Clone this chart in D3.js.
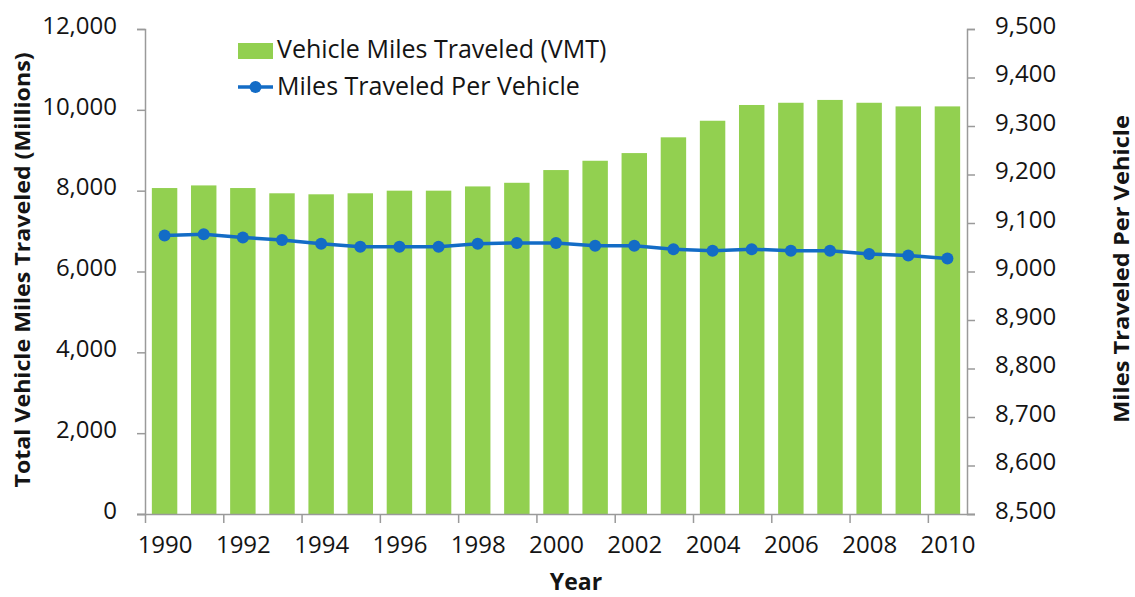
<!DOCTYPE html>
<html lang="en">
<head>
    <meta charset="UTF-8" />
    <title>Vehicle Miles Traveled</title>
    <script src="https://d3js.org/d3.v7.js"></script>
    <style>
        body { margin: 0; background: #fff; }
        text { font-family: "Open Sans", sans-serif; fill: #141414; }
    </style>
</head>
<body>
    <script>
        var w = 1135;
        var h = 597;

        var years = [1990,1991,1992,1993,1994,1995,1996,1997,1998,1999,2000,
                     2001,2002,2003,2004,2005,2006,2007,2008,2009,2010];
        // total VMT, millions
        var vmt = [8065,8130,8065,7935,7910,7935,8000,8000,8105,8195,8510,
                   8740,8930,9320,9730,10120,10175,10245,10175,10085,10085];
        // miles per vehicle
        var perVehicle = [9074,9077,9070,9065,9057,9051,9051,9051,9057,9059,9059,
                          9053,9053,9046,9043,9046,9043,9043,9036,9033,9027];
        var leftTicks = [0,2000,4000,6000,8000,10000,12000];
        var rightTicks = [8500,8600,8700,8800,8900,9000,9100,9200,9300,9400,9500];
        var yearTicks = [1990,1992,1994,1996,1998,2000,2002,2004,2006,2008,2010];

        var pLeft = 145, pRight = 967, pTop = 29, pBottom = 514;
        var green = "#92D050";
        var blue = "#136CC6";
        var grey = "#9a9a9a";
        var fontSize = "24px";

        var svg = d3.select("body")
                    .append("svg")
                    .attr("width", w)
                    .attr("height", h);

        var xBand = d3.scaleBand()
            .domain(years)
            .range([pLeft, pRight])
            .paddingInner(0.35)
            .paddingOuter(0.175);

        // year boundaries, used for the tick marks
        var xLin = d3.scaleLinear()
            .domain([1990, 2011])
            .range([pLeft, pRight]);

        var yLeft = d3.scaleLinear()
            .domain([0, 12000])
            .range([pBottom, pTop]);

        var yRight = d3.scaleLinear()
            .domain([8500, 9500])
            .range([pBottom, pTop]);

        // bars
        svg.selectAll(".bar")
            .data(years)
            .enter()
            .append("rect")
            .attr("class", "bar")
            .attr("x", function(d){ return xBand(d); })
            .attr("y", function(d, i){ return yLeft(vmt[i]); })
            .attr("width", xBand.bandwidth())
            .attr("height", function(d, i){ return pBottom - yLeft(vmt[i]); })
            .attr("fill", green);

        var fmt = d3.format(",");

        // left axis
        var gLeft = svg.append("g")
            .attr("transform", "translate(" + pLeft + ",0)")
            .call(d3.axisLeft(yLeft).tickValues(leftTicks).tickFormat(fmt)
                .tickSize(8).tickPadding(20));

        // right axis
        var gRight = svg.append("g")
            .attr("transform", "translate(" + pRight + ",0)")
            .call(d3.axisRight(yRight).tickValues(rightTicks).tickFormat(fmt)
                .tickSize(8).tickPadding(20));

        // bottom axis
        var gBottom = svg.append("g")
            .attr("transform", "translate(0," + pBottom + ")")
            .call(d3.axisBottom(xLin).tickValues(yearTicks).tickFormat(d3.format("d"))
                .tickSize(9).tickSizeOuter(0).tickPadding(13));

        gBottom.select(".domain").attr("d", "M" + (pLeft - 8) + ",0.5H" + (pRight + 8));
        gBottom.selectAll(".tick text")
            .attr("x", (xLin(1991) - xLin(1990)) / 2);

        [gLeft, gRight, gBottom].forEach(function(g){
            g.selectAll("path, line").attr("stroke", grey).attr("stroke-width", 1.5);
            g.selectAll("text")
                .style("font-size", fontSize)
                .attr("fill", "#141414");
        });
        gLeft.selectAll(".tick text").attr("dy", "0.18em");
        gRight.selectAll(".tick text").attr("dy", "0.18em");

        // line
        var line = d3.line()
            .x(function(d){ return xBand(d) + xBand.bandwidth() / 2; })
            .y(function(d, i){ return yRight(perVehicle[i]); });

        svg.append("path")
            .datum(years)
            .attr("d", line)
            .attr("fill", "none")
            .attr("stroke", blue)
            .attr("stroke-width", 3.5);

        svg.selectAll(".dot")
            .data(years)
            .enter()
            .append("circle")
            .attr("class", "dot")
            .attr("cx", function(d){ return xBand(d) + xBand.bandwidth() / 2; })
            .attr("cy", function(d, i){ return yRight(perVehicle[i]); })
            .attr("r", 6)
            .attr("fill", blue);

        // axis titles
        svg.append("text")
            .attr("x", 576)
            .attr("y", 590)
            .attr("text-anchor", "middle")
            .style("font-size", "23px")
            .style("font-weight", "bold")
            .text("Year");

        svg.append("text")
            .attr("transform", "translate(30,270) rotate(-90)")
            .attr("text-anchor", "middle")
            .attr("textLength", 435)
            .attr("lengthAdjust", "spacingAndGlyphs")
            .style("font-size", "22px")
            .style("font-weight", "bold")
            .text("Total Vehicle Miles Traveled (Millions)");

        svg.append("text")
            .attr("transform", "translate(1129,269) rotate(-90)")
            .attr("text-anchor", "middle")
            .attr("textLength", 308)
            .attr("lengthAdjust", "spacingAndGlyphs")
            .style("font-size", "21px")
            .style("font-weight", "bold")
            .text("Miles Traveled Per Vehicle");

        // legend
        var legend = svg.append("g").attr("transform", "translate(238,0)");
        legend.append("rect")
            .attr("x", 0).attr("y", 43)
            .attr("width", 35).attr("height", 16)
            .attr("fill", green);
        legend.append("text")
            .attr("x", 39).attr("y", 58)
            .style("font-size", "25px")
            .text("Vehicle Miles Traveled (VMT)");
        legend.append("line")
            .attr("x1", 0).attr("x2", 35)
            .attr("y1", 87).attr("y2", 87)
            .attr("stroke", blue).attr("stroke-width", 3.5);
        legend.append("circle")
            .attr("cx", 17.5).attr("cy", 87).attr("r", 6)
            .attr("fill", blue);
        legend.append("text")
            .attr("x", 39).attr("y", 95)
            .style("font-size", "25px")
            .text("Miles Traveled Per Vehicle");
    </script>
</body>
</html>
